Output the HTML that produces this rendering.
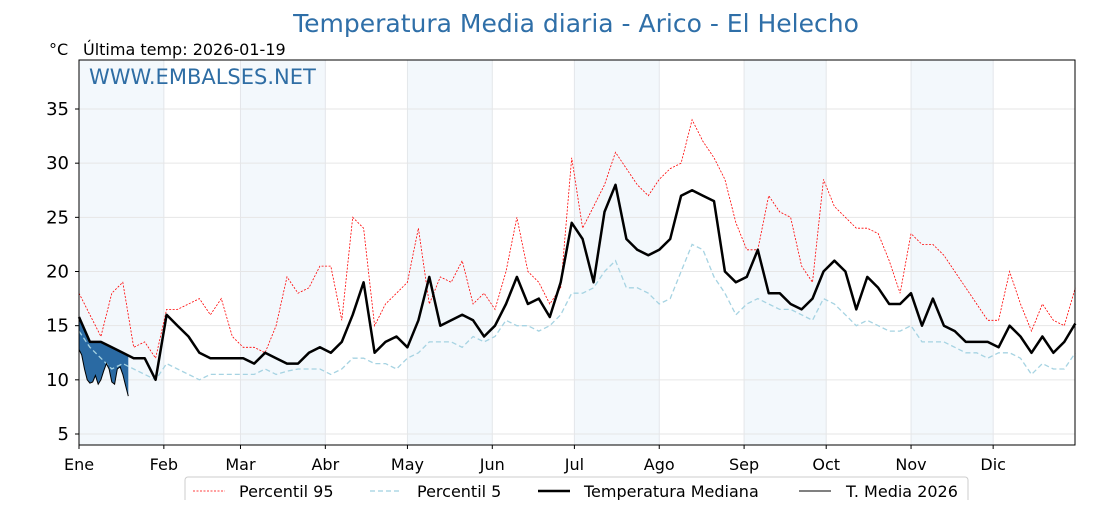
<!DOCTYPE html>
<html><head><meta charset="utf-8">
<style>
body{margin:0;background:#fff;font-family:"Liberation Sans","DejaVu Sans",sans-serif;}
svg text{font-family:"DejaVu Sans","Liberation Sans",sans-serif;}
</style></head>
<body>
<svg id="chart" width="1120" height="500" xmlns="http://www.w3.org/2000/svg">
<text x="576" y="32" text-anchor="middle" font-size="25" fill="#2f6fa8">Temperatura Media diaria - Arico - El Helecho</text>
<text x="49" y="55" font-size="16" fill="#000">°C</text>
<text x="83" y="55" font-size="16" fill="#000">Última temp: 2026-01-19</text>
<g id="bands"></g>
<g id="grid"></g>
<g id="series"></g>
<text x="89" y="84" font-size="21" fill="#2e6da4">WWW.EMBALSES.NET</text>
<rect x="79" y="60" width="996" height="385" fill="none" stroke="#000" stroke-width="1"/>
<g id="axes"></g>
<g id="legend">
<rect x="185" y="477" width="783" height="30" rx="3" fill="#fff" stroke="#ccc"/>
<g><line x1="193" y1="491" x2="225" y2="491" stroke="#f00" stroke-width="0.8" stroke-dasharray="2,1.5"/><text x="239" y="497" font-size="16">Percentil 95</text></g>
<g><line x1="370" y1="491" x2="402" y2="491" stroke="#9fd0e0" stroke-width="1.2" stroke-dasharray="5,3"/><text x="417" y="497" font-size="16">Percentil 5</text></g>
<g><line x1="538" y1="491" x2="570" y2="491" stroke="#000" stroke-width="2.5"/><text x="584" y="497" font-size="16">Temperatura Mediana</text></g>
<g><line x1="799" y1="491" x2="831" y2="491" stroke="#000" stroke-width="1"/><text x="846" y="497" font-size="16">T. Media 2026</text></g>
</g>
</svg>
<script>
const stepDays = 4;
const median = [15.8,13.5,13.5,13,12.5,12,12,10,16,15,14,12.5,12,12,12,12,11.5,12.5,12,11.5,11.5,12.5,13,12.5,13.5,16,19,12.5,13.5,14,13,15.5,19.5,15,15.5,16,15.5,14,15,17,19.5,17,17.5,15.8,19,24.5,23,19,25.5,28,23,22,21.5,22,23,27,27.5,27,26.5,20,19,19.5,22,18,18,17,16.5,17.5,20,21,20,16.5,19.5,18.5,17,17,18,15,17.5,15,14.5,13.5,13.5,13.5,13,15,14,12.5,14,12.5,13.5,15.2];
const p95 = [18,16,14,18,19,13,13.5,12,16.5,16.5,17,17.5,16,17.5,14,13,13,12.5,15,19.5,18,18.5,20.5,20.5,15.5,25,24,15,17,18,19,24,17,19.5,19,21,17,18,16.5,20,25,20,19,17,18.5,30.5,24,26,28,31,29.5,28,27,28.5,29.5,30,34,32,30.5,28.5,24.5,22,22,27,25.5,25,20.5,19,28.5,26,25,24,24,23.5,21,18,23.5,22.5,22.5,21.5,20,18.5,17,15.5,15.5,20,17,14.5,17,15.5,15,18.5];
const p5 = [14.5,13,12,11,11.5,11,10.5,10,11.5,11,10.5,10,10.5,10.5,10.5,10.5,10.5,11,10.5,10.8,11,11,11,10.5,11,12,12,11.5,11.5,11,12,12.5,13.5,13.5,13.5,13,14,13.5,14,15.5,15,15,14.5,15,16,18,18,18.5,20,21,18.5,18.5,18,17,17.5,20,22.5,22,19.5,18,16,17,17.5,17,16.5,16.5,16,15.5,17.5,17,16,15,15.5,15,14.5,14.5,15,13.5,13.5,13.5,13,12.5,12.5,12,12.5,12.5,12,10.5,11.5,11,11,12.5];
const t2026 = [12.8,12.3,11,10,9.7,9.8,10.4,9.6,10,10.8,11.5,11,9.8,9.6,11,11.2,10.5,9.5,8.5];
const yTicks = [5,10,15,20,25,30,35];
const monthNames = ["Ene","Feb","Mar","Abr","May","Jun","Jul","Ago","Sep","Oct","Nov","Dic"];
const monthStart = [0,31,59,90,120,151,181,212,243,273,304,334];

const NS="http://www.w3.org/2000/svg";
const X0=79,X1=1075,Y0=60,Y1=445,PXD=2.737;
const xs=d=>X0+d*PXD;
const ys=v=>434-(v-5)*10.833;
function mk(tag,attrs,parent){const e=document.createElementNS(NS,tag);for(const k in attrs)e.setAttribute(k,attrs[k]);parent.appendChild(e);return e;}
const bands=document.getElementById('bands'),grid=document.getElementById('grid'),series=document.getElementById('series'),axes=document.getElementById('axes');
mk('rect',{x:X0,y:Y0,width:X1-X0,height:Y1-Y0,fill:'#fff'},bands);
monthStart.forEach((m,i)=>{
  const end=i<11?monthStart[i+1]:364;
  if(i%2===0){const r=mk('rect',{x:xs(m),y:Y0,width:xs(end)-xs(m),height:Y1-Y0,fill:'#f3f8fc'},bands);
    
    }
  const l=mk('line',{x1:xs(m),y1:Y0,x2:xs(m),y2:Y1,stroke:'#e3e6ea','stroke-width':1},grid);
  
  
  const t=mk('text',{x:xs(m),y:470,'text-anchor':'middle','font-size':16},axes);t.textContent=monthNames[i];
  
  
  mk('line',{x1:xs(m),y1:Y1,x2:xs(m),y2:Y1+4,stroke:'#000'},axes);
});
yTicks.forEach(v=>{
  const l=mk('line',{x1:X0,y1:ys(v),x2:X1,y2:ys(v),stroke:'#e6e6e6','stroke-width':1},grid);
  
  
  mk('line',{x1:X0-4,y1:ys(v),x2:X0,y2:ys(v),stroke:'#000'},axes);
  const t=mk('text',{x:X0-10,y:ys(v)+6,'text-anchor':'end','font-size':18},axes);t.textContent=v;
  
  
});
const pts=(arr,step)=>arr.map((v,i)=>xs(Math.min(i*step,364)).toFixed(1)+','+ys(v).toFixed(1)).join(' ');
function medAt(d){const i=Math.min(Math.floor(d/stepDays),median.length-2);const f=(d-i*stepDays)/stepDays;return median[i]*(1-f)+median[i+1]*f;}
let fp=t2026.map((v,d)=>xs(d).toFixed(1)+','+ys(v).toFixed(1));
for(let d=t2026.length-1;d>=0;d--)fp.push(xs(d).toFixed(1)+','+ys(Math.max(medAt(d),t2026[d])).toFixed(1));
const fill=mk('polygon',{points:fp.join(' '),fill:'#2a6aa3'},series);


const l95=mk('polyline',{points:pts(p95,stepDays),fill:'none',stroke:'#f00','stroke-width':0.8,'stroke-dasharray':'2,1.5'},series);


const l5=mk('polyline',{points:pts(p5,stepDays),fill:'none',stroke:'#a6d3e2','stroke-width':1.3,'stroke-dasharray':'5,3'},series);


const lm=mk('polyline',{points:pts(median,stepDays),fill:'none',stroke:'#000','stroke-width':2.5,'stroke-linejoin':'round'},series);


const l26=mk('polyline',{points:pts(t2026,1),fill:'none',stroke:'#000','stroke-width':1},series);


</script>
</body></html>
